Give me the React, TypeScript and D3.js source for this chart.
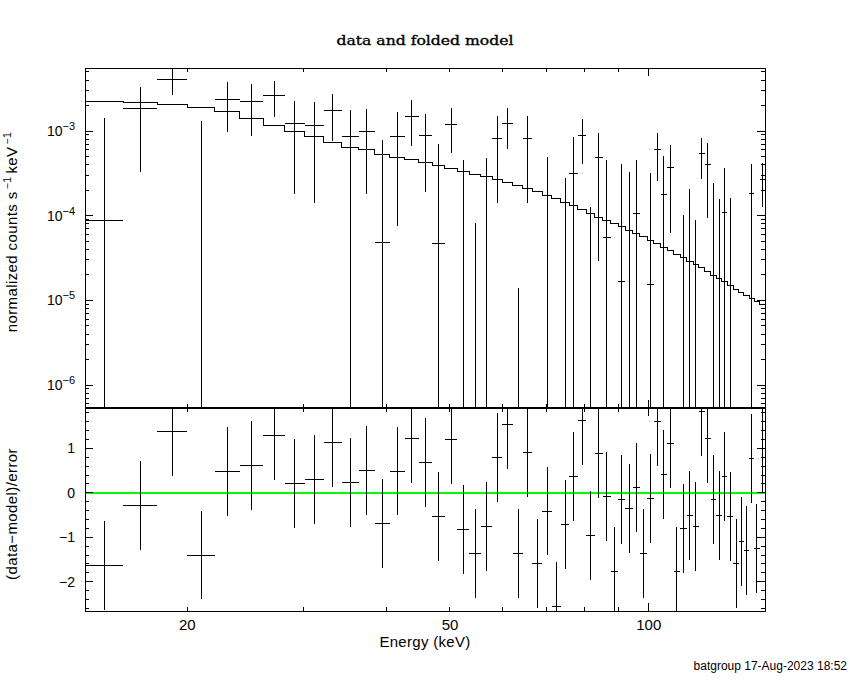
import React, { useEffect } from "react";
import * as d3 from "d3";

// ---- data ----
const binEdges = [14, 16, 18, 20, 22, 24, 26.07, 28.08, 30.12, 32.2, 34.28, 36.35, 38.44, 40.54, 42.68, 44.82, 46.96, 49.13, 51.32, 53.46, 55.68, 57.93, 60.04, 62.28, 64.49, 66.66, 69.03, 71.36, 73.63, 75.85, 78.09, 80.44, 82.77, 85.17, 87.58, 89.85, 92.21, 94.65, 96.99, 99.4, 101.8, 104.2, 106.65, 109.03, 111.6, 114.2, 116.7, 119.1, 121.6, 124.1, 126.6, 129.1, 131.6, 134.25, 136.9, 139.4, 141.9, 144.5, 147.2, 150];

const modelValues = [
  2.22e-3, 2.18e-3, 2.08e-3, 1.88e-3, 1.69e-3, 1.41e-3, 1.17e-3, 9.9e-4, 8.57e-4, 7.28e-4,
  6.42e-4, 5.97e-4, 5.35e-4, 4.89e-4, 4.63e-4, 4.27e-4, 3.93e-4, 3.62e-4, 3.34e-4, 3.1e-4,
  2.92e-4, 2.69e-4, 2.48e-4, 2.29e-4, 2.08e-4, 1.91e-4, 1.74e-4, 1.6e-4, 1.44e-4, 1.31e-4,
  1.19e-4, 1.07e-4, 9.64e-5, 8.72e-5, 8.04e-5, 7.49e-5, 6.77e-5, 6.19e-5, 5.65e-5, 5.16e-5,
  4.72e-5, 4.23e-5, 3.83e-5, 3.5e-5, 3.19e-5, 2.89e-5, 2.64e-5, 2.41e-5, 2.2e-5, 1.99e-5,
  1.8e-5, 1.65e-5, 1.51e-5, 1.36e-5, 1.24e-5, 1.13e-5, 1.04e-5, 9.8e-6, 8.97e-6,
];

const dataValues = [
  8.8e-5, 1.82e-3, 4.11e-3, -1.2e-4, 2.37e-3, 2.22e-3, 2.66e-3, 1.22e-3, 1.17e-3, 1.75e-3,
  8.65e-4, 1.0e-3, 4.84e-5, 8.65e-4, 1.49e-3, 8.89e-4, 4.75e-5, 1.21e-3, -2.32e-4, -5.35e-4,
  -3.0e-4, 8.2e-4, 1.24e-3, -5.66e-4, 8.2e-4, -7.95e-4, -5.0e-5, -1.25e-3, -1.91e-4, 3.16e-4,
  8.89e-4, -3.97e-4, 4.89e-4, 5.55e-5, -6.3e-4, 1.65e-5, -7.4e-5, 1.07e-4, -3.96e-4, 1.55e-5,
  6.08e-4, 1.79e-4, 3.73e-4, -5.49e-4, -2.52e-4, -1.55e-4, -1.71e-4, 5.46e-4, 4.07e-4, -1.9e-5,
  -1.27e-4, 1.1e-4, -1.52e-4, -4.3e-4, -2.93e-4, -3.53e-4, 1.85e-4, -3.15e-4, 2.71e-4,
];

const dataErrors = [
  1.35e-3, 1.49e-3, 1.45e-3, 1.43e-3, 1.39e-3, 1.34e-3, 1.2e-3, 1.04e-3, 1.03e-3, 9.8e-4,
  9.0e-4, 8.2e-4, 7.35e-4, 7.9e-4, 8.3e-4, 7.0e-4, 6.5e-4, 6.6e-4, 6.9e-4, 6.17e-4,
  7.8e-4, 6.8e-4, 6.3e-4, 5.8e-4, 6.8e-4, 6.2e-4, 5.47e-4, 5.5e-4, 4.72e-4, 5.4e-4,
  4.8e-4, 5.25e-4, 4.6e-4, 4.0e-4, 4.0e-4, 3.95e-4, 4.05e-4, 3.5e-4, 3.3e-4, 3.0e-4,
  3.5e-4, 3.28e-4, 3.1e-4, 3.3e-4, 3.55e-4, 3.6e-4, 2.6e-4, 2.74e-4, 3.14e-4, 2.62e-4,
  2.84e-4, 2.56e-4, 3.15e-4, 2.8e-4, 2.8e-4, 2.8e-4, 2.22e-4, 2.6e-4, 1.46e-4,
];

const residuals = [
  -1.63, -0.28, 1.38, -1.4, 0.48, 0.62, 1.3, 0.21, 0.3, 1.13,
  0.24, 0.5, -0.69, 0.49, 1.22, 0.69, -0.53, 1.2, -0.82, -1.37,
  -0.76, 0.8, 1.54, -1.37, 0.91, -1.59, -0.41, -2.56, -0.71, 0.37,
  1.63, -0.96, 0.89, -0.08, -1.77, -0.15, -0.35, 0.12, -1.37, -0.13,
  1.61, 0.41, 1.11, -1.77, -0.8, -0.51, -0.76, 1.82, 1.22, -0.15,
  -0.51, 0.37, -0.53, -1.59, -1.09, -1.3, 0.77, -1.25, 1.0,
];

const xTickValues = [20, 30, 40, 50, 60, 70, 80, 90, 100];
const xTickLabels = ["20", "50", "100"];
const yTopLabelExponents = [-3, -4, -5, -6];
const yResLabels = [-2, -1, 0, 1];

const titleText = "data and folded model";
const xAxisTitle = "Energy (keV)";
const residualTitle = "(data\u2212model)/error";
const footerText = "batgroup 17-Aug-2023 18:52";

// ---- layout ----
const W = 850;
const H = 680;
const L = 85;
const R = 765;
const T = 68;
const MID = 408;
const B = 611;
const SANS = "'Liberation Sans', Arial, sans-serif";

export default function App() {
  useEffect(() => {
    document.body.style.margin = "0";
  }, []);

  const x = d3.scaleLog().domain([14, 150]).range([L, R]);
  const yT = d3.scaleLog().domain([5.35e-7, 5.55e-3]).range([MID, T]);
  const yR = d3.scaleLinear().domain([-2.66, 1.91]).range([B, MID]);
  const [yTmin, yTmax] = yT.domain();

  const bins = modelValues.map((m, i) => ({
    lo: binEdges[i],
    hi: binEdges[i + 1],
    mid: (binEdges[i] + binEdges[i + 1]) / 2,
    m,
    d: dataValues[i],
    e: dataErrors[i],
    r: residuals[i],
  }));

  const stepPts: [number, number][] = bins.map((b) => [b.lo, b.m]);
  stepPts.push([binEdges[binEdges.length - 1], modelValues[modelValues.length - 1]]);
  const modelPath =
    d3
      .line<[number, number]>()
      .x((p) => x(p[0]))
      .y((p) => yT(p[1]))
      .curve(d3.curveStepAfter)(stepPts) || "";

  // y ticks for log top panel
  const topTicks: { v: number; major: boolean }[] = [];
  for (let n = -7; n <= -2; n++) {
    for (let k = 1; k <= 9; k++) {
      const v = k * Math.pow(10, n);
      if (v >= yTmin && v <= yTmax) topTicks.push({ v, major: k === 1 });
    }
  }
  const resTicks = d3.range(-26, 20, 2).map((i) => ({ v: i / 10, major: i % 10 === 0 }));

  const cross = (
    key: string,
    xs: number,
    x0: number,
    x1: number,
    yc: number | null,
    ya: number,
    yb: number
  ) => (
    <g key={key}>
      {yc !== null && <line x1={x0} x2={x1} y1={yc} y2={yc} />}
      <line x1={xs} x2={xs} y1={ya} y2={yb} />
    </g>
  );

  return (
    <svg
      width={W}
      height={H}
      viewBox={`0 0 ${W} ${H}`}
      style={{ position: "absolute", left: 0, top: 0, background: "#fff", display: "block" }}
    >
      <rect x={0} y={0} width={W} height={H} fill="#fff" />
      <defs>
        <clipPath id="clipTop">
          <rect x={L} y={T} width={R - L} height={MID - T} />
        </clipPath>
        <clipPath id="clipRes">
          <rect x={L} y={MID} width={R - L} height={B - MID} />
        </clipPath>
      </defs>

      {/* title */}
      <text
        x={425}
        y={45}
        textAnchor="middle"
        fontFamily="'DejaVu Serif', serif"
        fontSize={13.5}
        textLength={177}
        lengthAdjust="spacingAndGlyphs"
        fill="#000"
        stroke="#000"
        strokeWidth={0.35}
      >
        {titleText}
      </text>

      {/* top panel data */}
      <g clipPath="url(#clipTop)" stroke="#000" strokeWidth={1} shapeRendering="crispEdges" fill="none">
        {bins.map((b, i) => {
          const up = b.d + b.e;
          if (up <= yTmin) return null;
          const lo = b.d - b.e;
          const ya = yT(Math.min(up, yTmax * 10));
          const yb = lo > yTmin ? yT(lo) : MID + 2;
          const yc = b.d > yTmin ? yT(b.d) : null;
          return cross("t" + i, x(b.mid), x(b.lo), x(b.hi), yc, ya, yb);
        })}
        <path d={modelPath} />
      </g>

      {/* residual panel */}
      <line
        x1={L}
        x2={R}
        y1={yR(0)}
        y2={yR(0)}
        stroke="#00ff00"
        strokeWidth={2}
        shapeRendering="crispEdges"
      />
      <g clipPath="url(#clipRes)" stroke="#000" strokeWidth={1} shapeRendering="crispEdges" fill="none">
        {bins.map((b, i) =>
          cross("r" + i, x(b.mid), x(b.lo), x(b.hi), yR(b.r), yR(b.r + 1), yR(b.r - 1))
        )}
      </g>

      {/* frames */}
      <g stroke="#000" fill="none" shapeRendering="crispEdges">
        <rect x={L} y={T} width={R - L} height={MID - T} strokeWidth={1} />
        <rect x={L} y={MID} width={R - L} height={B - MID} strokeWidth={1} />
        <line x1={L} x2={R} y1={MID} y2={MID} strokeWidth={2} />
      </g>

      {/* ticks */}
      <g stroke="#000" strokeWidth={1} shapeRendering="crispEdges">
        {xTickValues.map((v) => {
          const len = v === 100 ? 8 : 4;
          const xv = x(v);
          return (
            <g key={"xt" + v}>
              <line x1={xv} x2={xv} y1={T} y2={T + len} />
              <line x1={xv} x2={xv} y1={MID} y2={MID - len} />
              <line x1={xv} x2={xv} y1={MID} y2={MID + len} />
              <line x1={xv} x2={xv} y1={B} y2={B - len} />
            </g>
          );
        })}
        {topTicks.map((t, i) => {
          const len = t.major ? 8 : 4;
          const yv = yT(t.v);
          return (
            <g key={"yt" + i}>
              <line x1={L} x2={L + len} y1={yv} y2={yv} />
              <line x1={R} x2={R - len} y1={yv} y2={yv} />
            </g>
          );
        })}
        {resTicks.map((t, i) => {
          const len = t.major ? 8 : 4;
          const yv = yR(t.v);
          return (
            <g key={"yr" + i}>
              <line x1={L} x2={L + len} y1={yv} y2={yv} />
              <line x1={R} x2={R - len} y1={yv} y2={yv} />
            </g>
          );
        })}
      </g>

      {/* tick labels */}
      <g fontFamily={SANS} fill="#000">
        {xTickLabels.map((s) => (
          <text key={"xl" + s} x={x(+s)} y={630} textAnchor="middle" fontSize={15}>
            {s}
          </text>
        ))}
        {yTopLabelExponents.map((n) => (
          <text key={"ytl" + n} x={75} y={yT(Math.pow(10, n)) + 5} textAnchor="end" fontSize={14}>
            10
            <tspan dy={-6} fontSize={11}>
              {"\u2212" + Math.abs(n)}
            </tspan>
          </text>
        ))}
        {yResLabels.map((v) => (
          <text key={"yrl" + v} x={75} y={yR(v) + 5} textAnchor="end" fontSize={14}>
            {v < 0 ? "\u2212" + Math.abs(v) : String(v)}
          </text>
        ))}
      </g>

      {/* axis titles */}
      <g fontFamily={SANS} fill="#000" fontSize={15}>
        <text x={425} y={647} textAnchor="middle" letterSpacing={0.3}>
          {xAxisTitle}
        </text>
        <text transform="translate(17,232) rotate(-90)" textAnchor="middle" letterSpacing={0.4}>
          normalized counts s
          <tspan dx={2} dy={-6} fontSize={10.5}>
            {"\u22121"}
          </tspan>
          <tspan dx={3} dy={6}>
            keV
          </tspan>
          <tspan dx={2} dy={-6} fontSize={10.5}>
            {"\u22121"}
          </tspan>
        </text>
        <text transform="translate(17,514) rotate(-90)" textAnchor="middle" letterSpacing={0.4}>
          {residualTitle}
        </text>
      </g>

      {/* footer */}
      <text x={847} y={670} textAnchor="end" fontFamily={SANS} fontSize={12} fill="#000">
        {footerText}
      </text>
    </svg>
  );
}
